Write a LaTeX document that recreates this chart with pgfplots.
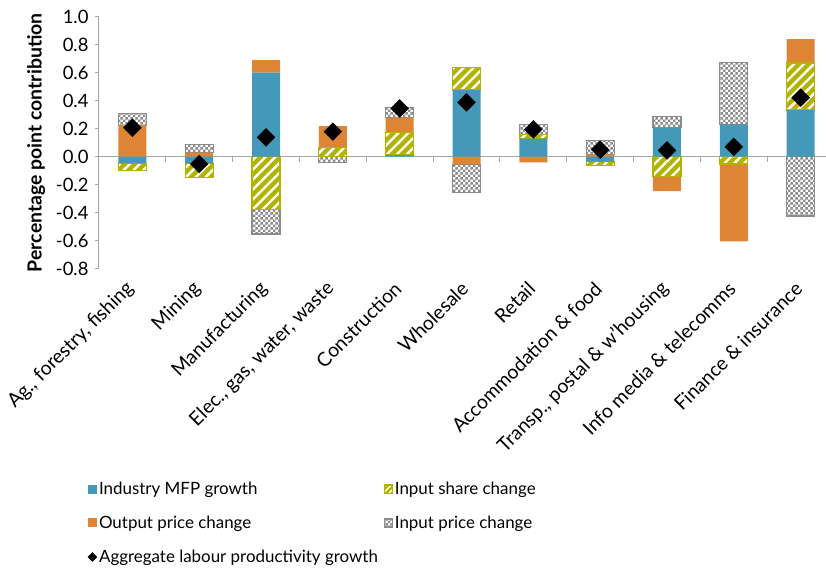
\documentclass[border=0pt]{standalone}
\usepackage{fontspec}
\setmainfont{Lato}
\usepackage{pgfplots}
\usepackage{pgfplotstable}
\pgfplotsset{compat=1.18}
\usetikzlibrary{patterns,patterns.meta}

\definecolor{mfpblue}{HTML}{4499B8}
\definecolor{outorange}{HTML}{DD8534}
\definecolor{shareolive}{HTML}{B2B300}
\definecolor{chkgrey}{HTML}{8C8C8C}
\definecolor{axisgrey}{HTML}{A6A6A6}

\newcommand\fsz{\fontsize{17}{20}\selectfont}
\newcommand\tsz{\fontsize{18.5}{22}\selectfont}
\newcommand\csz{\fontsize{19.5}{23}\selectfont}

% small grey/white checker board
\pgfdeclarepatternformonly{smallchecker}{\pgfpointorigin}{\pgfqpoint{5.4bp}{5.4bp}}{\pgfqpoint{5.4bp}{5.4bp}}{%
  \pgfpathrectangle{\pgfpointorigin}{\pgfqpoint{2.7bp}{2.7bp}}%
  \pgfpathrectangle{\pgfqpoint{2.7bp}{2.7bp}}{\pgfqpoint{2.7bp}{2.7bp}}%
  \pgfusepath{fill}}

\tikzset{
  mfpbar/.style={fill=mfpblue, draw=none},
  outbar/.style={fill=outorange, draw=none},
  sharebar/.style={preaction={fill=shareolive},
    pattern={Lines[angle=45,distance=7bp,line width=2.4bp]}, pattern color=white,
    draw=shareolive, line width=1.2bp},
  inpbar/.style={preaction={fill=white}, pattern=smallchecker, pattern color=chkgrey,
    draw=chkgrey, line width=1.2bp},
}

\pgfplotsset{
  panel/.style={scale only axis, width=727bp, height=252bp,
    xmin=-0.5, xmax=10.38, ymin=-0.8, ymax=1.0, enlargelimits=false},
}

% contributions by industry (percentage points)
\pgfplotstableread{
x  mfp     share   outp    inp     agg
0  -0.048  -0.052  0.224   0.086   0.207
1  -0.048  -0.100  0.029   0.059   -0.052
2  0.600   -0.376  0.090   -0.176  0.138
3  0.000   0.067   0.152   -0.040  0.179
4  0.012   0.159   0.108   0.071   0.345
5  0.476   0.162   -0.055  -0.200  0.388
6  0.129   0.031   -0.040  0.071   0.195
7  -0.036  -0.028  0.017   0.097   0.050
8  0.207   -0.143  -0.102  0.081   0.045
9  0.229   -0.052  -0.553  0.445   0.071
10 0.333   0.336   0.171   -0.424  0.421
}\contrib

\begin{document}
\begin{tikzpicture}
% horizontal axis through zero with separators between industries
\begin{axis}[
  panel,
  axis x line=middle, axis y line=none,
  x axis line style={-, axisgrey, line width=1bp},
  xtick={0.5,1.5,2.5,3.5,4.5,5.5,6.5,7.5,8.5,9.5},
  xticklabels={},
  xtick style={axisgrey, line width=1bp},
  xtick align=outside,
  major tick length=5bp,
  ytick=\empty,
]
\end{axis}
\begin{axis}[
  name=ax,
  panel,
  ybar stacked,
  stack negative=separate,
  bar width=28bp,
  axis lines*=left,
  x axis line style={draw=none},
  y axis line style={axisgrey, line width=1bp},
  tick align=outside,
  major tick length=4bp,
  ytick={-0.8,-0.6,...,1.0},
  ytick style={axisgrey, line width=1bp},
  xtick={0,...,10},
  xtick style={draw=none},
  xticklabels={{Ag., forestry, fishing},Mining,Manufacturing,{Elec., gas, water, waste},Construction,Wholesale,Retail,{Accommodation \& food},{Transp., postal \& w'housing},{Info media \& telecomms},{Finance \& insurance}},
  xticklabel style={xshift=-1bp, yshift=-12bp, rotate=45, anchor=east, font=\csz, inner sep=1bp},
  yticklabel style={font=\tsz, xshift=-3bp, /pgf/number format/.cd, fixed, fixed zerofill, precision=1, assume math mode=true},
  ylabel={\bfseries Percentage point contribution},
  ylabel style={font=\csz, yshift=4bp},
  legend columns=2,
  legend cell align=left,
  legend style={draw=none, fill=none, font=\fsz, at={(rel axis cs:-0.02,-0.83)}, anchor=north west,
    row sep=16bp, /tikz/column 2/.style={column sep=4bp}},
  clip=false,
]
\addplot[mfpbar, legend image code/.code={\fill[mfpblue] (0bp,-4.5bp) rectangle (9bp,4.5bp);}] table[x=x,y=mfp]{\contrib};
\addlegendentry{Industry MFP growth}
\addplot[sharebar, legend image code/.code={\draw[preaction={fill=shareolive}, pattern={Lines[angle=45,distance=4bp,line width=1.4bp]}, pattern color=white, draw=shareolive, line width=1bp] (0.5bp,-4bp) rectangle (8.5bp,4bp);}] table[x=x,y=share]{\contrib};
\addlegendentry{Input share change}
\addplot[outbar, legend image code/.code={\fill[outorange] (0bp,-4.5bp) rectangle (9bp,4.5bp);}] table[x=x,y=outp]{\contrib};
\addlegendentry{Output price change}
\addplot[inpbar, legend image code/.code={\draw[preaction={fill=white}, pattern=smallchecker, pattern color=chkgrey, draw=chkgrey, line width=1bp] (0.5bp,-4bp) rectangle (8.5bp,4bp);}] table[x=x,y=inp]{\contrib};
\addlegendentry{Input price change}
\addplot[stack plots=false, only marks, mark=square*, mark size=6.3bp, mark options={rotate=45, fill=black, draw=black},
  legend image code/.code={\fill[black] (4.5bp,-4.5bp) -- (9bp,0bp) -- (4.5bp,4.5bp) -- (0bp,0bp) -- cycle;}]
  table[x=x,y=agg]{\contrib};
\addlegendentry{Aggregate labour productivity growth}
\end{axis}
\pgfresetboundingbox
\path[use as bounding box] (ax.south west) ++(-99bp,-302.3bp) rectangle ++(826bp,571bp);
\end{tikzpicture}
\end{document}
